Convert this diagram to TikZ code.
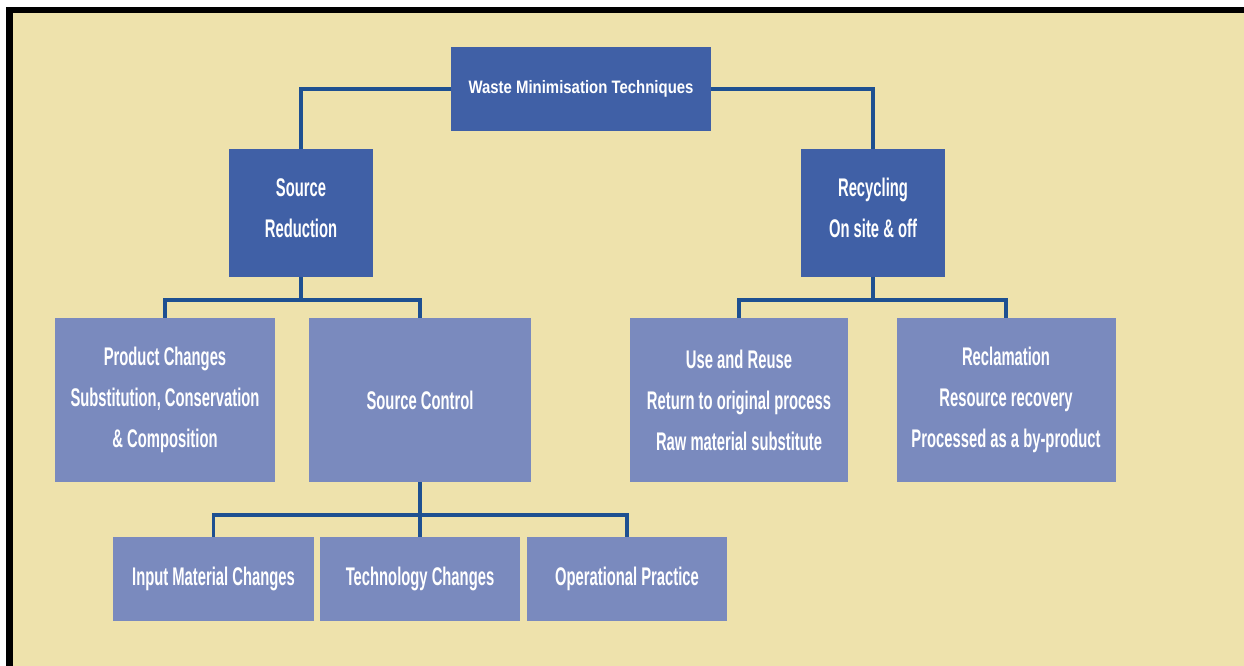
\documentclass[tikz,border=0pt]{standalone}
\usepackage{fontspec}
\newfontfamily\boxfont{Liberation Sans}[FakeStretch=0.58]
\newfontfamily\headfont{Liberation Sans}[FakeStretch=0.83]
\definecolor{paper}{RGB}{238,226,172}
\definecolor{darkbox}{RGB}{64,96,166}
\definecolor{lightbox}{RGB}{122,138,190}
\definecolor{wire}{RGB}{30,80,145}
\begin{document}
\begin{tikzpicture}[x=1pt,y=-1pt,
  box/.style={rectangle, inner sep=0pt, text=white, align=center,
    font=\boxfont\bfseries\fontsize{25.5}{41}\selectfont},
  dark/.style={box, fill=darkbox},
  light/.style={box, fill=lightbox},
  conn/.style={draw=wire, line width=3.5pt}]

% page, panel and its black frame
\useasboundingbox (0,0) rectangle (1244,666);
\fill[white] (0,0) rectangle (1244,666);
\fill[paper] (6,7) rectangle (1245,667);
\fill[black] (6,7) rectangle (1245,13);
\fill[black] (6,7) rectangle (13,667);

% root
\node[dark, minimum width=260pt, minimum height=84pt,
      font=\headfont\bfseries\fontsize{18}{22}\selectfont]
  (top) at (581,89) {Waste Minimisation Techniques};

% second level: box and its label, the label sitting slightly high
\node[dark, minimum width=144pt, minimum height=128pt] (sr) at (301,213) {};
\node[box] (srlabel) at (301,208) {Source\\Reduction};
\node[dark, minimum width=144pt, minimum height=128pt] (rc) at (873,213) {};
\node[box] (rclabel) at (873,208) {Recycling\\On site \& off};

% third level
\node[light, minimum width=220pt, minimum height=164pt] (pc) at (165,400)
  {Product Changes\\Substitution, Conservation\\\& Composition};
\node[light, minimum width=222pt, minimum height=164pt] (sc) at (420,400) {Source Control};
\node[light, minimum width=218pt, minimum height=164pt] (ur) at (739,400)
  {Use and Reuse\\Return to original process\\Raw material substitute};
\node[light, minimum width=219pt, minimum height=164pt] (rm) at (1006,400)
  {Reclamation\\Resource recovery\\Processed as a by-product};

% fourth level
\node[light, minimum width=201pt, minimum height=84pt] (im) at (213.5,579) {Input Material Changes};
\node[light, minimum width=200pt, minimum height=84pt] (tc) at (420,579) {Technology Changes};
\node[light, minimum width=200pt, minimum height=84pt] (op) at (627,579) {Operational Practice};

% bus lines
\coordinate (busA) at (0,300);
\coordinate (busB) at (0,515);

% connectors
\draw[conn] (top.west) -| (sr.north);
\draw[conn] (top.east) -| (rc.north);

\draw[conn] (sr.south) -- (sr.south |- busA);
\draw[conn] (pc.north) |- (sc.north |- busA) -- (sc.north);

\draw[conn] (rc.south) -- (rc.south |- busA);
\draw[conn] (ur.north) |- (rm.north |- busA) -- (rm.north);

\draw[conn] (sc.south) -- (tc.north);
\draw[conn] (im.north) |- (op.north |- busB) -- (op.north);
\end{tikzpicture}
\end{document}
